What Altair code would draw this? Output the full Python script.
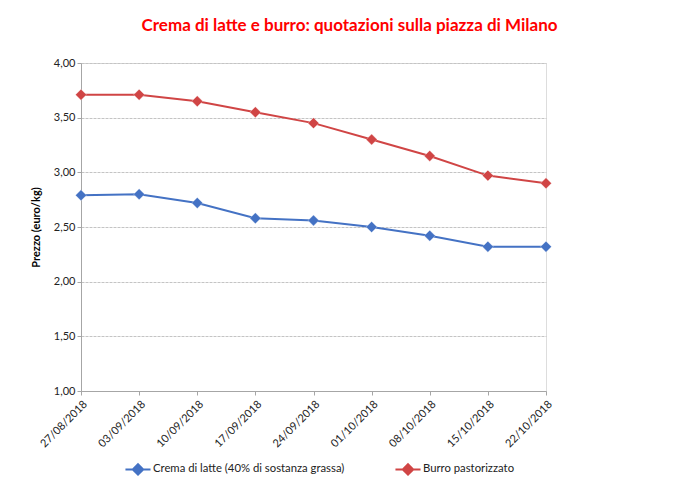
import altair as alt
import pandas as pd

dates = ["27/08/2018", "03/09/2018", "10/09/2018", "17/09/2018", "24/09/2018",
         "01/10/2018", "08/10/2018", "15/10/2018", "22/10/2018"]
crema = [2.79, 2.80, 2.72, 2.58, 2.56, 2.50, 2.42, 2.32, 2.32]
burro = [3.71, 3.71, 3.65, 3.55, 3.45, 3.30, 3.15, 2.97, 2.90]
series_names = ["Crema di latte (40% di sostanza grassa)", "Burro pastorizzato"]
colors = ["#4472C4", "#D04545"]

rows = []
for d, c, b in zip(dates, crema, burro):
    rows.append({"data": d, "serie": series_names[0], "prezzo": c})
    rows.append({"data": d, "serie": series_names[1], "prezzo": b})
df = pd.DataFrame(rows)

FONT = "Lato"

x = alt.X("data:O", sort=dates, title=None,
          scale=alt.Scale(type="point", padding=0),
          axis=alt.Axis(labelAngle=-45, labelAlign="right", labelBaseline="top",
                        labelPadding=3, labelFontSize=11, labelColor="#222222",
                        domainColor="#a6a6a6", tickColor="#a6a6a6", tickSize=4,
                        grid=False, labelFont=FONT))
y = alt.Y("prezzo:Q", title="Prezzo (euro/kg)",
          scale=alt.Scale(domain=[1, 4], nice=False, zero=False),
          axis=alt.Axis(values=[1, 1.5, 2, 2.5, 3, 3.5, 4],
                        labelExpr="replace(format(datum.value, '.2f'), '.', ',')",
                        labelFontSize=11, labelColor="#222222", labelFont=FONT,
                        titleFont=FONT, titleFontSize=11, titleFontWeight="bold",
                        titleColor="#000000", titlePadding=12,
                        domainColor="#a6a6a6", tickColor="#a6a6a6", tickSize=4,
                        gridColor="#c4c4c4", gridDash=[3, 1]))
color = alt.Color("serie:N", sort=series_names,
                  scale=alt.Scale(domain=series_names, range=colors),
                  legend=alt.Legend(title=None, orient="none", direction="horizontal",
                                    legendX=47, legendY=396,
                                    symbolType="M-1.45,0L1.45,0M0,-0.6L0.6,0L0,0.6L-0.6,0Z",
                                    symbolSize=300, symbolStrokeWidth=2,
                                    labelFontSize=11.3, labelFont=FONT, labelColor="#222222",
                                    labelLimit=0, columnPadding=46, labelOffset=5))

base = alt.Chart(df)
lines = base.mark_line(strokeWidth=2).encode(x=x, y=y, color=color)
points = base.mark_point(shape="diamond", size=120, filled=True, opacity=1,
                         stroke="#ffffff", strokeWidth=0.3).encode(x=x, y=y, color=color)

chart = alt.layer(lines, points).properties(
    width=465, height=328,
    title=alt.Title("Crema di latte e burro: quotazioni sulla piazza di Milano",
                    font=FONT, fontSize=17, fontWeight="bold", color="#FF0000",
                    anchor="middle", offset=22, dx=36),
    padding={"left": 73, "top": 55, "right": 136, "bottom": 90},
    autosize=alt.AutoSizeParams(type="none"),
).configure_view(strokeWidth=0, stroke="transparent").configure(background="#ffffff")

chart.save("out.html", embed_options={"renderer": "svg", "actions": False})
